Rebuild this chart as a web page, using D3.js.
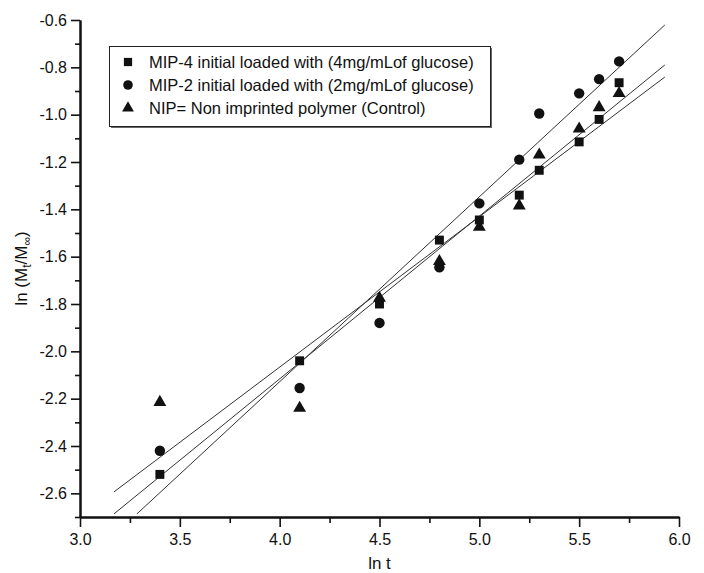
<!DOCTYPE html>
<html>
<head>
<meta charset="utf-8">
<script src="https://d3js.org/d3.v7.min.js"></script>
<style>
  body { margin: 0; background: #fff; }
  svg { display: block; font-family: "Liberation Sans", Arial, sans-serif; }
</style>
</head>
<body>
<div id="chart"></div>
<script>
// x values (ln t) shared by all three series
var lnT = [3.4, 4.1, 4.5, 4.8, 5.0, 5.2, 5.3, 5.5, 5.6, 5.7];

// ln(Mt/Minf)
var mip4 = [-2.52, -2.04, -1.80, -1.53, -1.445, -1.34, -1.235, -1.115, -1.02, -0.865];
var mip2 = [-2.42, -2.155, -1.88, -1.645, -1.375, -1.19, -0.995, -0.91, -0.85, -0.775];
var nip  = [-2.215, -2.24, -1.775, -1.62, -1.475, -1.385, -1.17, -1.06, -0.97, -0.91];

var seriesNames = [
  "MIP-4 initial loaded with (4mg/mLof glucose)",
  "MIP-2 initial loaded with (2mg/mLof glucose)",
  "NIP= Non imprinted polymer (Control)"
];

// fitted lines, ends (same order as the series)
var fitStartX = [3.17, 3.285, 3.17];
var fitStartY = [-2.687, -2.687, -2.594];
var fitEndX   = [5.929, 5.929, 5.929];
var fitEndY   = [-0.79, -0.621, -0.841];

var xMajor = [3.0, 3.5, 4.0, 4.5, 5.0, 5.5, 6.0];
var xMinor = [3.25, 3.75, 4.25, 4.75, 5.25, 5.75];
var yMajor = [-0.6, -0.8, -1.0, -1.2, -1.4, -1.6, -1.8, -2.0, -2.2, -2.4, -2.6];
var yMinor = [-0.7, -0.9, -1.1, -1.3, -1.5, -1.7, -1.9, -2.1, -2.3, -2.5, -2.7];

var width = 704, height = 573;

var svg = d3.select("#chart").append("svg")
  .attr("width", width)
  .attr("height", height);

var x = d3.scaleLinear().domain([3.0, 6.0]).range([80, 679]);
var y = d3.scaleLinear().domain([-2.7, -0.6]).range([517, 20]);

var fmt = function(d) { return d.toFixed(1); };

// x axis
var gx = svg.append("g").attr("transform", "translate(0," + y(-2.7) + ")");
gx.call(d3.axisBottom(x).tickValues(xMajor).tickFormat(fmt).tickSize(10).tickSizeOuter(0).tickPadding(7));
gx.append("g").call(d3.axisBottom(x).tickValues(xMinor).tickFormat("").tickSize(6).tickSizeOuter(0));

// y axis
var gy = svg.append("g").attr("transform", "translate(" + x(3.0) + ",0)");
gy.call(d3.axisLeft(y).tickValues(yMajor).tickFormat(fmt).tickSize(9).tickSizeOuter(0).tickPadding(4));
gy.append("g").call(d3.axisLeft(y).tickValues(yMinor).tickFormat("").tickSize(5).tickSizeOuter(0));

svg.selectAll(".domain").attr("stroke", "#111").attr("stroke-width", 2);
svg.selectAll(".tick line").attr("stroke", "#111").attr("stroke-width", 1.6);
svg.selectAll(".tick text")
  .attr("fill", "#111")
  .style("font-size", "16px")
  .style("font-family", "'Liberation Sans', Arial, sans-serif");

// axis titles
svg.append("text")
  .attr("x", x(4.5))
  .attr("y", 569)
  .attr("text-anchor", "middle")
  .style("font-size", "17px")
  .attr("fill", "#111")
  .text("ln t");

var yt = svg.append("text")
  .attr("transform", "translate(27," + y(-1.65) + ") rotate(-90)")
  .attr("text-anchor", "middle")
  .style("font-size", "17px")
  .attr("fill", "#111");
yt.append("tspan").text("ln (M");
yt.append("tspan").attr("dy", 4).style("font-size", "12px").text("t");
yt.append("tspan").attr("dy", -4).text("/M");
yt.append("tspan").attr("dy", 4).style("font-size", "12px").text("\u221E");
yt.append("tspan").attr("dy", -4).text(")");

// fit lines
var fits = d3.range(3).map(function(i) {
  return [[fitStartX[i], fitStartY[i]], [fitEndX[i], fitEndY[i]]];
});
svg.selectAll(".fit")
  .data(fits)
  .enter().append("path")
    .attr("class", "fit")
    .attr("fill", "none")
    .attr("stroke", "#333")
    .attr("stroke-width", 1)
    .attr("d", d3.line()
      .x(function(d) { return x(d[0]); })
      .y(function(d) { return y(d[1]); }));

// markers
var shapes = [d3.symbolSquare, d3.symbolCircle, d3.symbolTriangle];
var sizes = [80, 85, 72];
var allSeries = [mip4, mip2, nip];

allSeries.forEach(function(vals, i) {
  svg.append("g").selectAll("path")
    .data(vals)
    .enter().append("path")
      .attr("transform", function(d, j) { return "translate(" + x(lnT[j]) + "," + y(d) + ")"; })
      .attr("d", d3.symbol().type(shapes[i]).size(sizes[i]))
      .attr("fill", "#111");
});

// legend
var lg = svg.append("g");
lg.append("rect")
  .attr("x", 111).attr("y", 48).attr("width", 381).attr("height", 80)
  .attr("fill", "#666");
lg.append("rect")
  .attr("x", 109.5).attr("y", 46.5).attr("width", 381).attr("height", 80)
  .attr("fill", "#fff").attr("stroke", "#222").attr("stroke-width", 1);

var legendRows = [62, 85, 108];
seriesNames.forEach(function(name, i) {
  lg.append("path")
    .attr("transform", "translate(128," + legendRows[i] + ")")
    .attr("d", d3.symbol().type(shapes[i]).size(sizes[i] * 0.85))
    .attr("fill", "#111");
  lg.append("text")
    .attr("x", 149)
    .attr("y", legendRows[i] + 6)
    .style("font-size", "16.5px")
    .attr("fill", "#111")
    .text(name);
});
</script>
</body>
</html>
